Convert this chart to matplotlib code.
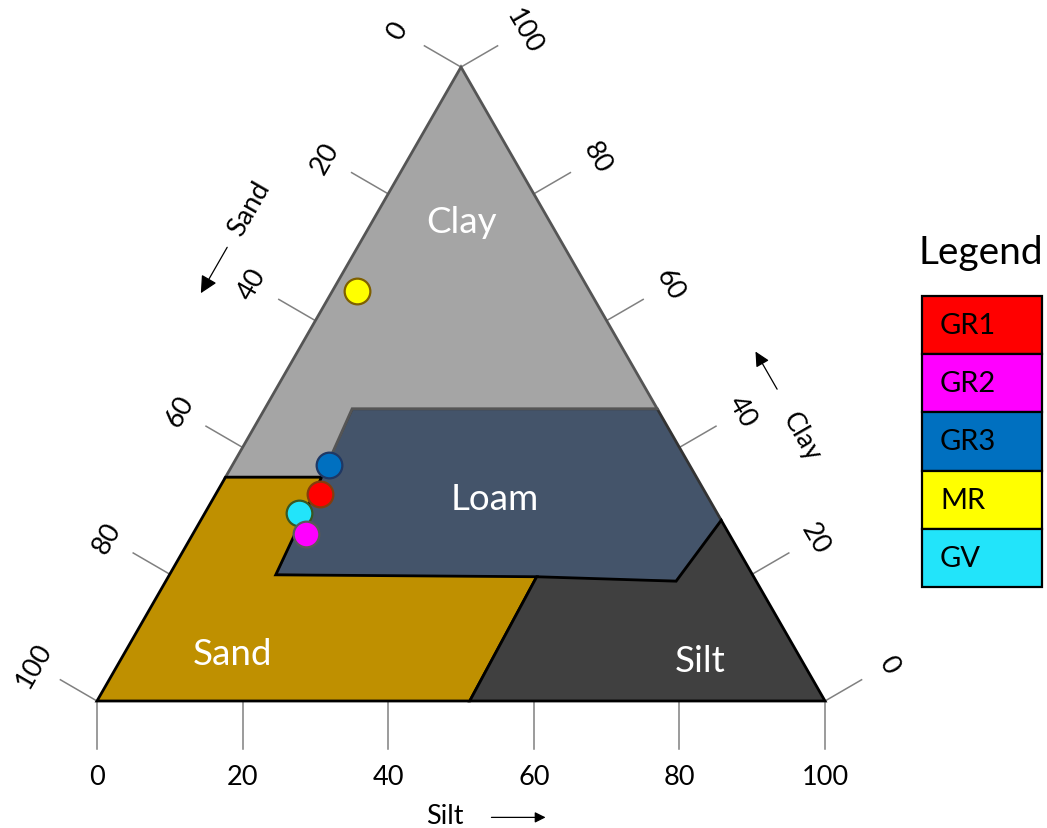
import numpy as np
import matplotlib.pyplot as plt
from matplotlib.patches import Polygon, Rectangle

plt.rcParams['font.family'] = ['Lato', 'DejaVu Sans']

# texture classes, vertices as (silt %, clay %)
clay_zone = [(0, 100), (53.9, 46.1), (12.0, 46.1), (13.2, 35.3), (0, 35.3)]
loam_zone = [(12.0, 46.1), (53.9, 46.1), (71.5, 28.5), (70.1, 18.9), (14.6, 19.9)]
sand_zone = [(0, 0), (0, 35.3), (13.2, 35.3), (14.6, 19.9), (50.6, 19.6), (51.2, 0)]
silt_zone = [(51.2, 0), (50.6, 19.6), (70.1, 18.9), (71.5, 28.5), (100, 0)]
zone_names = ['Clay', 'Loam', 'Sand', 'Silt']
zone_label_pos = [(12.3, 75.6), (38.7, 32.0), (14.8, 7.5), (79.6, 6.4)]

# samples
samples = ['GR1', 'GR2', 'GR3', 'MR', 'GV']
silt = [14.3, 15.5, 13.3, 3.4, 12.9]
clay = [32.6, 26.3, 37.2, 64.7, 29.7]
colors = ['#ff0000', '#ff00ff', '#0070c0', '#ffff00', '#22e4fa']
edges = ['#843c0c', '#595959', '#1f3864', '#7f6000', '#385723']
draw_order = [3, 4, 1, 0, 2]

ticks = [0, 20, 40, 60, 80, 100]

H = np.sqrt(3) / 2


def tern(s, c):
    return s + c / 2, c * H


fig = plt.figure(figsize=(10.47, 8.29), dpi=100)
ax = fig.add_axes([0, 0, 1, 1])
ax.set_xlim(-13.32, 130.49)
ax.set_ylim(-17.35, 95.9)
ax.axis('off')

fills = [('#a5a5a5', '#555555'), ('#44546a', '#333333'), ('#bf9000', 'black'), ('#404040', 'black')]
zones = [clay_zone, loam_zone, sand_zone, silt_zone]
for i in [1, 0, 2, 3]:
    pts = [tern(s, c) for s, c in zones[i]]
    ax.add_patch(Polygon(pts, closed=True, facecolor=fills[i][0],
                         edgecolor=fills[i][1], lw=2, joinstyle='miter', zorder=2))

for name, (s, c) in zip(zone_names, zone_label_pos):
    x, y = tern(s, c)
    ax.text(x, y, name, color='white', fontsize=26.5, ha='center', va='center', zorder=4)

# axis ticks (perpendicular to each side)
tick_len = 5.8
lab_d = 10.0
fs = 19.5
nl = np.array([-H, 0.5])
nr = np.array([H, 0.5])
for v in ticks:
    # silt along the bottom
    ax.plot([v, v], [0, -6.6], color='#808080', lw=1.1, zorder=1)
    ax.text(v, -10.3, str(v), fontsize=fs, ha='center', va='center')
    # clay along the right side
    p = np.array(tern(100 - v, v))
    q = p + nr * tick_len
    ax.plot([p[0], q[0]], [p[1], q[1]], color='#808080', lw=1.1, zorder=1)
    t = p + nr * lab_d
    ax.text(t[0], t[1], str(v), fontsize=fs, ha='center', va='center', rotation=-60)
    # sand along the left side
    p = np.array(tern(0, 100 - v))
    q = p + nl * tick_len
    ax.plot([p[0], q[0]], [p[1], q[1]], color='#808080', lw=1.1, zorder=1)
    t = p + nl * lab_d
    ax.text(t[0], t[1], str(v), fontsize=fs, ha='center', va='center', rotation=60)

# axis names with arrows
arrow = dict(arrowstyle='-|>', color='black', lw=0.9, mutation_scale=26)
p = np.array(tern(0, 100 - 31.2)) + nl * 15.5
ax.text(p[0], p[1], 'Sand', fontsize=fs, ha='center', va='center', rotation=60)
a0 = np.array(tern(0, 100 - 37)) + nl * 15.5
a1 = np.array(tern(0, 100 - 45)) + nl * 15.5
ax.annotate('', xy=a1, xytext=a0, arrowprops=arrow)

p = np.array(tern(100 - 32.9, 32.9)) + nr * 15.3
ax.text(p[0], p[1], 'Clay', fontsize=fs, ha='center', va='center', rotation=-60)
a0 = np.array(tern(100 - 39.8, 39.8)) + nr * 15.6
a1 = np.array(tern(100 - 46.5, 46.5)) + nr * 15.6
ax.annotate('', xy=a1, xytext=a0, arrowprops=dict(arrow, mutation_scale=22))

ax.text(47.8, -15.6, 'Silt', fontsize=fs, ha='center', va='center')
ax.annotate('', xy=(62.0, -15.9), xytext=(53.8, -15.9),
            arrowprops=dict(arrowstyle='-|>', color='black', lw=0.9, mutation_scale=16))

# sample points
for i in draw_order:
    x, y = tern(silt[i], clay[i])
    ax.plot(x, y, 'o', ms=18.5, mfc=colors[i], mec=edges[i], mew=1.6, zorder=5)

# legend column
fig.text(981 / 1047, 1 - 253 / 829, 'Legend', fontsize=28, ha='center', va='center')
lax = fig.add_axes([922 / 1047, (829 - 588) / 829, 120 / 1047, 291 / 829])
lax.set_xlim(0, 1)
lax.set_ylim(0, len(samples))
lax.axis('off')
for k, name in enumerate(samples):
    y0 = len(samples) - 1 - k
    lax.add_patch(Rectangle((0, y0), 1, 1, facecolor=colors[k], edgecolor='black', lw=1.6, clip_on=False))
    lax.text(0.15, y0 + 0.5, name, fontsize=21, ha='left', va='center')

fig.savefig('out.png', dpi=100)
